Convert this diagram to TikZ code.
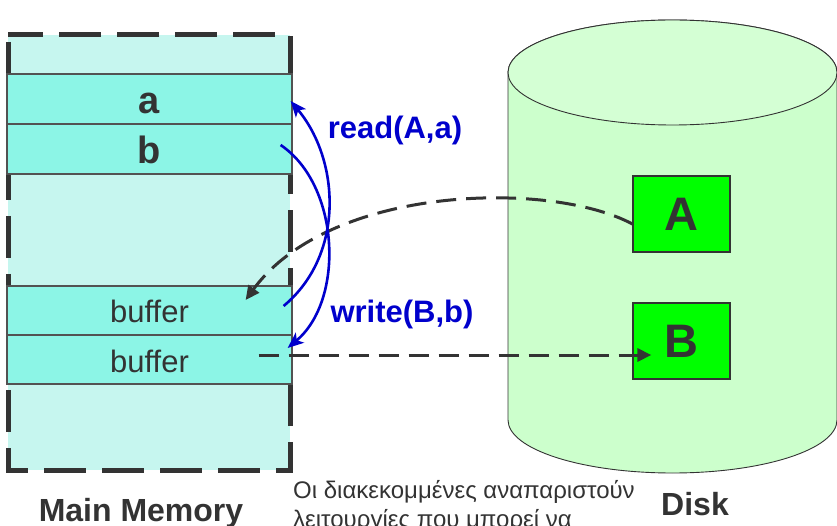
\documentclass[tikz,border=0pt]{standalone}
\usepackage{fontspec}
\setmainfont{Liberation Sans}
\usetikzlibrary{arrows.meta,calc}
\definecolor{ink}{HTML}{333333}
\definecolor{memfill}{HTML}{C6F6EF}
\definecolor{rowfill}{HTML}{8CF5E6}
\definecolor{diskfill}{HTML}{CCFFCC}
\definecolor{disktop}{HTML}{D4FFD4}
\definecolor{blockfill}{HTML}{00FF00}
\definecolor{opblue}{HTML}{0000CC}
\begin{document}
\begin{tikzpicture}[x=1pt,y=-1pt,
  memrow/.style={draw=ink!85, line width=1.2pt, fill=rowfill, minimum width=285pt,
     minimum height=50pt, inner sep=0pt, text=ink},
  varrow/.style={memrow, font=\fontsize{38}{42}\selectfont\bfseries, text height=33pt, text depth=3pt},
  bufrow/.style={memrow, minimum height=49pt, font=\fontsize{31}{36}\selectfont, text height=27pt, text depth=2pt},
  block/.style={draw=ink, line width=1.2pt, fill=blockfill, minimum width=97pt, minimum height=76pt,
     inner sep=0pt, text=ink, font=\fontsize{47}{50}\selectfont\bfseries, text height=33pt, text depth=0pt},
  op/.style={draw=opblue, line width=2.6pt, -{Stealth[length=16pt,width=13pt,inset=4pt]}},
  oplabel/.style={text=opblue, font=\fontsize{31}{34}\selectfont\bfseries, anchor=base, inner sep=0pt},
  io/.style={draw=ink, line width=3pt, dash pattern=on 20pt off 10pt, -{Triangle[length=14pt,width=13pt]}},
  caption/.style={text=ink, font=\fontsize{32}{36}\selectfont\bfseries, anchor=base, inner sep=0pt},
  note/.style={text=ink, font=\fontsize{24}{28}\selectfont, anchor=base west, inner sep=0pt}]
\useasboundingbox (0,0) rectangle (837,526);

% main memory
\fill[memfill] (8,35) rectangle (290,470);
\draw[ink, line width=5pt, dash pattern=on 42pt off 16pt, dash phase=-7pt] (8,35) rectangle (290,470);

\node[varrow] (a) at (149.5,99) {a};
\node[varrow] (b) at (149.5,149) {b};
\node[bufrow] (buf1) at (149.5,310.5) {buffer};
\node[bufrow] (buf2) at (149.5,359.5) {buffer};

% disk cylinder
\draw[ink, line width=0.9pt, fill=diskfill] (508,72.5) -- (508,420)
  arc[start angle=180, end angle=360, x radius=164.5pt, y radius=53pt]
  -- (837,72.5) arc[start angle=0, end angle=180, x radius=164.5pt, y radius=52.5pt] -- cycle;
\draw[ink, line width=0.9pt, fill=disktop] (672.5,72.5) ellipse [x radius=164.5pt, y radius=52.5pt];

\node[block] (A) at (681.5,214) {A};
\node[block] (B) at (681.5,341) {B};

% connection points
\coordinate (rs) at ($(buf1.east)+(-9,-4.5)$);
\coordinate (re) at ($(a.east)+(-2,2)$);
\coordinate (ws) at ($(b.east)+(-12,-4)$);
\coordinate (we) at ($(buf2.east)+(-5,-11.5)$);
\coordinate (ins) at ($(A.west)+(0,10)$);
\coordinate (ine) at ($(buf1.east)+(-47,-10.5)$);
\coordinate (outs) at ($(buf2.east)+(-34,-4.5)$);
\coordinate (oute) at ($(B.west)+(19,14)$);

% disk transfers
\draw[io] (ins) .. controls (550,180) and (330,185) .. (ine);
\draw[io] (outs) -- (oute);

% memory operations
\draw[op] (rs) .. controls (345,255) and (340,160) .. (re);
\draw[op] (ws) .. controls (340,185) and (345,300) .. (we);

\node[oplabel] (rd) at (395,139) {read(A,a)};
\node[oplabel] (wr) at (402,322) {write(B,b)};

\node[caption] (mm) at (141,521) {Main Memory};
\node[caption] (dk) at (695,515) {Disk};
\node[note] (n1) at (293,498) {Οι διακεκομμένες αναπαριστούν};
\node[note] (n2) at (293,527) {λειτουργίες που μπορεί να};
\end{tikzpicture}
\end{document}
